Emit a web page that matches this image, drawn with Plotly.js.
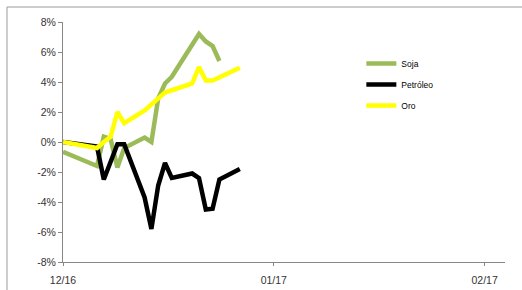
<!DOCTYPE html>
<html>
<head>
<meta charset="utf-8">
<script src="https://cdn.plot.ly/plotly-3.0.1.min.js"></script>
<style>
  html, body { margin: 0; padding: 0; background: #fff; }
  #chart { width: 522px; height: 290px; }
</style>
</head>
<body>
<div id="chart"></div>
<script>
const dates = ['2016-12-01','2016-12-06','2016-12-07','2016-12-08','2016-12-09','2016-12-10',
               '2016-12-13','2016-12-14','2016-12-15','2016-12-16','2016-12-17',
               '2016-12-20','2016-12-21','2016-12-22','2016-12-23','2016-12-24','2016-12-27'];
const soja     = [-0.65, -1.6, 0.35, 0.2, -1.7, -0.4, 0.3, 0.0, 2.9, 3.9, 4.35, 6.4, 7.2, 6.7, 6.4, 5.4, null];
const petroleo = [0.0, -0.3, -2.5, -1.3, -0.15, -0.15, -3.7, -5.8, -2.9, -1.4, -2.4, -2.1, -2.4, -4.5, -4.45, -2.5, -1.8];
const oro      = [0.0, -0.4, 0.0, 0.35, 2.0, 1.25, 2.1, 2.5, 2.9, 3.3, 3.45, 3.9, 5.0, 4.1, 4.1, 4.3, 4.95];

const seriesNames = ['Soja', 'Petróleo', 'Oro'];
const yTickVals = [-8, -6, -4, -2, 0, 2, 4, 6, 8];
const yTickText = ['-8%', '-6%', '-4%', '-2%', '0%', '2%', '4%', '6%', '8%'];
const xTickVals = ['2016-12-01', '2017-01-01', '2017-02-01'];
const xTickText = ['12/16', '01/17', '02/17'];

const colors = ['#9BBB59', '#000000', '#FFFF00'];
const values = [soja, petroleo, oro];

const traces = values.map((v, i) => ({
  x: dates, y: v, name: seriesNames[i], type: 'scatter', mode: 'lines',
  line: { color: colors[i], width: 4.5 }, connectgaps: false,
  legendgroup: 'g' + i
}));

const axisColor = '#868686';
const tickFont = { family: 'Liberation Sans, Arial, sans-serif', size: 10.5, color: '#333' };

const layout = {
  width: 522, height: 290,
  margin: { l: 63, r: 17, t: 22, b: 28 },
  paper_bgcolor: '#fff', plot_bgcolor: '#fff',
  showlegend: true,
  legend: {
    x: 0.675, xanchor: 'left', y: 0.888, yanchor: 'top',
    font: { family: 'Liberation Sans, Arial, sans-serif', size: 8.5, color: '#000' },
    bgcolor: 'rgba(0,0,0,0)', borderwidth: 0, tracegroupgap: 2, traceorder: 'grouped'
  },
  xaxis: {
    type: 'date', range: ['2016-12-01', '2017-02-04'],
    tickmode: 'array', tickvals: xTickVals, ticktext: xTickText,
    showgrid: false, zeroline: false, showline: true, linecolor: axisColor, linewidth: 1,
    ticks: 'outside', ticklen: 3, tickcolor: axisColor, tickfont: tickFont,
    ticklabelstandoff: 5
  },
  yaxis: {
    range: [-8, 8], tickmode: 'array', tickvals: yTickVals, ticktext: yTickText,
    showgrid: false, zeroline: false, showline: true, linecolor: axisColor, linewidth: 1,
    ticks: 'outside', ticklen: 4, tickcolor: axisColor, tickfont: tickFont
  },
  shapes: [
    { type: 'line', xref: 'paper', yref: 'paper', x0: -0.1267, x1: 1.2, y0: 1.0625, y1: 1.0625,
      line: { color: '#9a9a9a', width: 1 } },
    { type: 'line', xref: 'paper', yref: 'paper', x0: -0.1267, x1: -0.1267, y0: 1.0625, y1: -0.2,
      line: { color: '#9a9a9a', width: 1 } }
  ]
};

Plotly.newPlot('chart', traces, layout, { displayModeBar: false, staticPlot: true });
</script>
</body>
</html>
